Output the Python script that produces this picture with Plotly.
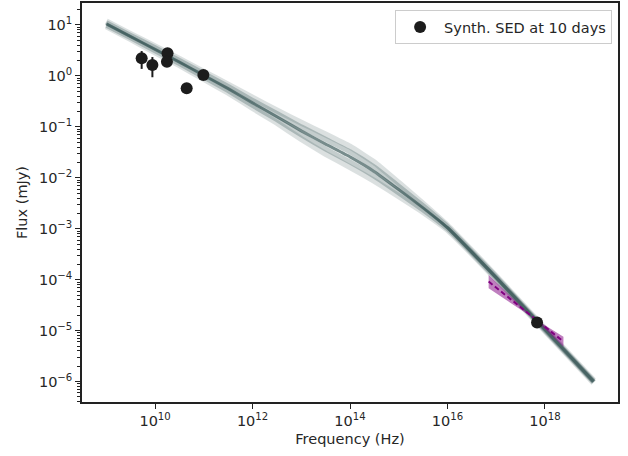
import plotly.graph_objects as go

# ---------------- data ----------------
# model SED frequency grid (Hz)
model_freq = [1e9, 3.16e9, 1e10, 3.16e10, 1e11, 3.16e11, 1e12, 3.16e12, 1e13, 3.16e13,
              1e14, 3.16e14, 1e15, 3.16e15, 1e16, 3.16e16, 1e17, 3.16e17, 1e18, 3.16e18, 1e19]
# model flux samples (mJy)
model_med = [10.5, 5.89, 3.31, 1.86, 1.02, 0.562, 0.295, 0.158, 0.0832, 0.0457,
             0.0257, 0.0132, 0.00589, 0.00257, 0.00105, 3.47e-4, 1.10e-4, 3.39e-5, 1.05e-5, 3.24e-6, 1.0e-6]
model_hi2 = [11.7, 6.61, 3.80, 2.14, 1.20, 0.676, 0.372, 0.209, 0.120, 0.0708,
             0.0407, 0.0200, 0.00794, 0.00309, 0.00115, 3.72e-4, 1.17e-4, 3.55e-5, 1.10e-5, 3.39e-6, 1.05e-6]
model_hi1 = [11.1, 6.24, 3.55, 2.00, 1.11, 0.617, 0.331, 0.182, 0.100, 0.0569,
             0.0324, 0.0162, 0.00684, 0.00282, 0.00110, 3.59e-4, 1.14e-4, 3.47e-5, 1.07e-5, 3.31e-6, 1.02e-6]
model_lo1 = [9.89, 5.56, 3.09, 1.74, 0.944, 0.513, 0.263, 0.138, 0.0692, 0.0367,
             0.0204, 0.0107, 0.00507, 0.00234, 0.00100, 3.35e-4, 1.06e-4, 3.31e-5, 1.02e-5, 3.16e-6, 9.77e-7]
model_lo2 = [9.33, 5.25, 2.88, 1.62, 0.871, 0.468, 0.234, 0.120, 0.0575, 0.0295,
             0.0162, 0.00871, 0.00437, 0.00214, 0.000955, 3.24e-4, 1.02e-4, 3.24e-5, 1.00e-5, 3.09e-6, 9.55e-7]

# synthetic SED points at 10 days
sed_freq = [5.3e9, 8.8e9, 1.8e10, 1.75e10, 4.45e10, 9.8e10, 6.9e17]
sed_flux = [2.22, 1.64, 2.79, 1.90, 0.57, 1.04, 1.45e-5]
sed_err = [0.85, 0.70, 0.20, 0.15, 0.05, 0.06, 1.0e-6]

# X-ray bowtie (0.3-10 keV)
xray_freq = [7.0e16, 5.9e17, 2.4e18]
xray_hi = [1.24e-4, 1.75e-5, 7.6e-6]
xray_lo = [6.8e-5, 1.75e-5, 4.86e-6]
xray_mid = [9.2e-5, 1.75e-5, 6.1e-6]

legend_label = "Synth. SED at 10 days"
x_tickvals = [1e10, 1e12, 1e14, 1e16, 1e18]
x_ticktext = ["10<sup>10</sup>", "10<sup>12</sup>", "10<sup>14</sup>", "10<sup>16</sup>", "10<sup>18</sup>"]
y_tickvals = [1e1, 1e0, 1e-1, 1e-2, 1e-3, 1e-4, 1e-5, 1e-6]
y_ticktext = ["10<sup>1</sup>", "10<sup>0</sup>", "10<sup>\u22121</sup>", "10<sup>\u22122</sup>",
              "10<sup>\u22123</sup>", "10<sup>\u22124</sup>", "10<sup>\u22125</sup>", "10<sup>\u22126</sup>"]

# ---------------- figure ----------------
FONT = "DejaVu Sans"
TXT = "#262626"
fig = go.Figure()

band_styles = [(model_hi2, 0.17, 6), (model_lo2, 0.17, 6),
               (model_hi1, 0.28, 5), (model_lo1, 0.28, 5), (model_med, 0.65, 3)]
for ys, op, w in band_styles:
    fig.add_trace(go.Scatter(x=model_freq, y=ys, mode="lines",
                             line=dict(color="#2f4f4f", width=w, shape="spline", smoothing=0.3),
                             opacity=op, showlegend=False, hoverinfo="skip"))

# bowtie
fig.add_trace(go.Scatter(x=xray_freq + xray_freq[::-1], y=xray_hi + xray_lo[::-1],
                         fill="toself", fillcolor="rgba(128,0,128,0.5)",
                         line=dict(width=0), mode="lines", showlegend=False, hoverinfo="skip"))
fig.add_trace(go.Scatter(x=xray_freq, y=xray_mid, mode="lines",
                         line=dict(color="#800080", width=2, dash="5px,3px"),
                         showlegend=False, hoverinfo="skip"))

# data
fig.add_trace(go.Scatter(x=sed_freq, y=sed_flux, mode="markers", name=legend_label,
                         marker=dict(color="#1c1c1c", size=12),
                         error_y=dict(type="data", array=sed_err, color="#1c1c1c",
                                      thickness=2, width=0)))

axis_common = dict(type="log", showline=True, linecolor="#222222", linewidth=1.6, mirror=True,
                   ticks="outside", tickcolor="#222222", tickwidth=1.2, ticklen=5,
                   showgrid=False, zeroline=False, tickmode="array", automargin=False,
                   tickfont=dict(family=FONT, size=14.5, color=TXT))

y_minor = [m * 10.0 ** e for e in range(-7, 2) for m in range(2, 10)]

fig.update_xaxes(range=[8.5, 19.5], tickvals=x_tickvals, ticktext=x_ticktext,
                 title=dict(text="Frequency (Hz)", standoff=6,
                            font=dict(family=FONT, size=14.5, color=TXT)),
                 **axis_common)
fig.update_yaxes(range=[-6.40, 1.43], tickvals=y_tickvals, ticktext=y_ticktext,
                 minor=dict(tickmode="array", tickvals=y_minor, ticks="outside",
                            ticklen=2.8, tickcolor="#222222", tickwidth=1),
                 title=dict(text="Flux (mJy)", standoff=8,
                            font=dict(family=FONT, size=14.5, color=TXT)),
                 **axis_common)

fig.update_layout(width=628, height=456, plot_bgcolor="white", paper_bgcolor="white",
                  margin=dict(l=82, r=10, t=3, b=54, autoexpand=False),
                  font=dict(family=FONT, size=14.5, color=TXT),
                  legend=dict(x=0.989, y=0.982, xanchor="right", yanchor="top",
                              bgcolor="white", bordercolor="#cccccc", borderwidth=1,
                              itemwidth=38,
                              font=dict(family=FONT, size=14.5, color=TXT)),
                  showlegend=True)

fig.write_html("out.html", config={"displayModeBar": False},
               post_script="document.body.style.margin='0';")
